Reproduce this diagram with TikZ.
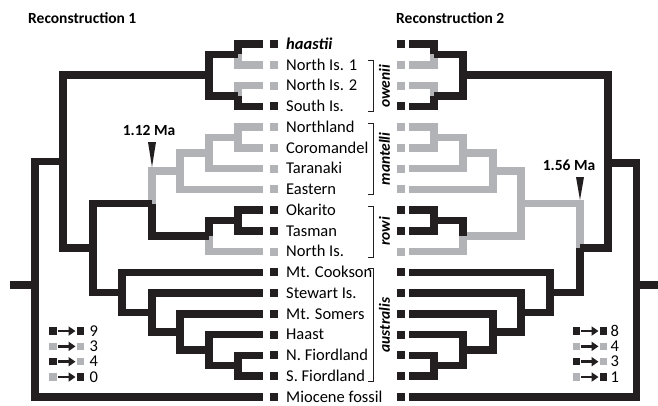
\documentclass[tikz,border=0pt]{standalone}
\usepackage{fontspec}
\setmainfont{Carlito}
\usetikzlibrary{arrows.meta, positioning, calc}
\definecolor{treeblack}{RGB}{35, 31, 32}
\definecolor{treegray}{RGB}{178, 179, 182}

\begin{document}
\begin{tikzpicture}[
        x=1pt, y=-1pt,
        every node/.style={font=\fontsize{16.5}{19}\selectfont},
        branch/.style={line width=7.5pt, line join=miter, treeblack},
        greybranch/.style={branch, treegray},
        leafl/.style={rectangle, minimum size=8pt, inner sep=0pt, outer xsep=7pt, outer ysep=0pt, fill=#1},
        leafr/.style={rectangle, minimum size=8pt, inner sep=0pt, outer xsep=3.5pt, outer ysep=0pt, fill=#1},
        taxon/.style={anchor=west, inner sep=0pt, text height=10.5pt, text depth=0pt},
        title/.style={anchor=west, inner sep=0pt, font=\fontsize{15.5}{18}\selectfont\bfseries},
        clade/.style={rotate=90, inner sep=0pt, font=\fontsize{15.5}{18}\selectfont\bfseries\itshape},
        bracket/.style={line width=0.8pt, treeblack},
        agelabel/.style={inner sep=0pt, font=\fontsize{15.5}{18}\selectfont\bfseries},
        legsq/.style={rectangle, minimum size=7.5pt, inner sep=0pt, fill=#1},
        legarrow/.style={line width=2.6pt, treeblack, -{Triangle[length=7pt,width=9pt]}, shorten <=1pt, shorten >=1pt},
    ]
    \useasboundingbox (0,0) rectangle (658,405);

    % Titles
    \node[title] (title1) at (28,18) {Reconstruction 1};
    \node[title] (title2) at (396,18) {Reconstruction 2};

    % Taxa with leaf squares on both sides
    \foreach \nm/\txt/\col [count=\i from 0] in {
        haastii/{\textbf{\textit{haastii}}}/treeblack,
        niA/North Is. 1/treegray,
        niB/North Is. 2/treegray,
        si/South Is./treeblack,
        northland/Northland/treegray,
        coromandel/Coromandel/treegray,
        taranaki/Taranaki/treegray,
        eastern/Eastern/treegray,
        okarito/Okarito/treeblack,
        tasman/Tasman/treeblack,
        ni/North Is./treegray,
        cookson/Mt. Cookson/treeblack,
        stewart/Stewart Is./treeblack,
        somers/Mt. Somers/treeblack,
        haast/Haast/treeblack,
        nfiord/N. Fiordland/treeblack,
        sfiord/S. Fiordland/treeblack,
        fossil/Miocene fossil/treeblack} {
        \node[taxon] (\nm) at (286, 44+20.75*\i) {\txt};
        \node[leafl=\col] (\nm-l) at (274, 44+20.75*\i) {};
        \node[leafr=\col] (\nm-r) at (401, 44+20.75*\i) {};
    }

    % Reconstruction 1 (left tree)
    \coordinate (lA) at (238, 54.4);
    \coordinate (lB) at (238, 95.9);
    \coordinate (lOw) at (209, 75.1);
    \coordinate (lM1) at (238, 137.4);
    \coordinate (lM2) at (209, 152.9);
    \coordinate (lM3) at (180, 171.1);
    \coordinate (lR1) at (238, 220.4);
    \coordinate (lR2) at (209, 235.9);
    \coordinate (lMR) at (152, 203.5);
    \coordinate (lA1) at (238, 365.6);
    \coordinate (lA2) at (209, 350.1);
    \coordinate (lA3) at (180, 331.9);
    \coordinate (lA4) at (152, 312.5);
    \coordinate (lA5) at (122, 292.4);
    \coordinate (lMRA) at (93, 247.9);
    \coordinate (lIn) at (63, 161.5);
    \coordinate (lRoot) at (35, 285);
    \coordinate (lStub) at (10, 285);

    \foreach \p/\c in {lA/niA-l.west, lB/niB-l.west, lM1/northland-l.west, lM1/coromandel-l.west,
        lM2/lM1, lM2/taranaki-l.west, lM3/lM2, lM3/eastern-l.west, lMR/lM3, lR2/ni-l.west}
        \draw[greybranch] (\p) |- (\c);
    \foreach \p/\c in {lA/haastii-l.west, lB/si-l.west, lOw/lA, lOw/lB,
        lR1/okarito-l.west, lR1/tasman-l.west, lR2/lR1, lMR/lR2,
        lA1/nfiord-l.west, lA1/sfiord-l.west, lA2/lA1, lA2/haast-l.west, lA3/lA2, lA3/somers-l.west,
        lA4/lA3, lA4/stewart-l.west, lA5/lA4, lA5/cookson-l.west,
        lMRA/lMR, lMRA/lA5, lIn/lOw, lIn/lMRA, lRoot/lIn, lRoot/fossil-l.west}
        \draw[branch] (\p) |- (\c);
    \draw[branch] (lStub) -- (lRoot);

    % Reconstruction 2 (right tree)
    \coordinate (rA) at (434, 54.4);
    \coordinate (rB) at (434, 95.9);
    \coordinate (rOw) at (463, 75.1);
    \coordinate (rM1) at (434, 137.4);
    \coordinate (rM2) at (463, 152.9);
    \coordinate (rM3) at (493, 171.1);
    \coordinate (rR1) at (434, 220.4);
    \coordinate (rR2) at (463, 235.9);
    \coordinate (rMR) at (521, 203.5);
    \coordinate (rA1) at (434, 365.6);
    \coordinate (rA2) at (463, 350.1);
    \coordinate (rA3) at (493, 331.9);
    \coordinate (rA4) at (521, 312.5);
    \coordinate (rA5) at (550, 292.4);
    \coordinate (rMRA) at (580, 247.9);
    \coordinate (rIn) at (608, 163);
    \coordinate (rRoot) at (636.5, 285);
    \coordinate (rStub) at (658, 285);

    \foreach \p/\c in {rA/niA-r.east, rB/niB-r.east, rM1/northland-r.east, rM1/coromandel-r.east,
        rM2/rM1, rM2/taranaki-r.east, rM3/rM2, rM3/eastern-r.east, rMR/rM3, rMR/rR2,
        rR2/ni-r.east, rMRA/rMR}
        \draw[greybranch] (\p) |- (\c);
    \foreach \p/\c in {rA/haastii-r.east, rB/si-r.east, rOw/rA, rOw/rB,
        rR1/okarito-r.east, rR1/tasman-r.east, rR2/rR1,
        rA1/nfiord-r.east, rA1/sfiord-r.east, rA2/rA1, rA2/haast-r.east, rA3/rA2, rA3/somers-r.east,
        rA4/rA3, rA4/stewart-r.east, rA5/rA4, rA5/cookson-r.east,
        rMRA/rA5, rIn/rOw, rIn/rMRA, rRoot/rIn, rRoot/fossil-r.east}
        \draw[branch] (\p) |- (\c);
    \draw[branch] (rStub) -- (rRoot);

    % Clade brackets
    \coordinate (brk) at (373.5, 0);
    \foreach \top/\bot/\lbl in {niA/si/owenii, northland/eastern/mantelli, okarito/ni/rowi, cookson/sfiord/australis} {
        \draw[bracket] ($(brk |- \top)+(-5.5,-4)$) -- ($(brk |- \top)+(0,-4)$)
            -- ($(brk |- \bot)+(0,5.5)$) -- ($(brk |- \bot)+(-5.5,5.5)$);
        \node[clade] at ($($(brk |- \top)!0.5!(brk |- \bot)$)+(11,0.75)$) {\lbl};
    }

    % Age markers
    \fill[treeblack] ($(lMR |- lM3)+(0,-4)$) -- ++(-4,-25) -- ++(8,0) -- cycle;
    \node[agelabel] (age1) at ($(lMR |- lM3)+(-3,-41)$) {1.12 Ma};
    \fill[treeblack] ($(rMRA |- rMR)+(0,-3.5)$) -- ++(-4,-23) -- ++(8,0) -- cycle;
    \node[agelabel] (age2) at ($(rMRA |- rMR)+(-11,-38.5)$) {1.56 Ma};

    % Legends
    \foreach \a/\b/\n [count=\i] in {treeblack/treeblack/9, treegray/treegray/3, treeblack/treegray/4, treegray/treeblack/0} {
        \node[legsq=\a] (lgLa\i) at (53, 315.7+15.33*\i) {};
        \node[legsq=\b] (lgLb\i) at (80.5, 315.7+15.33*\i) {};
        \node[taxon] (lgLn\i) at (89.5, 315.7+15.33*\i) {\n};
        \draw[legarrow] (lgLa\i) -- (lgLb\i);
    }
    \foreach \a/\b/\n [count=\i] in {treeblack/treeblack/8, treegray/treegray/4, treeblack/treegray/3, treegray/treeblack/1} {
        \node[legsq=\a] (lgRa\i) at (576.5, 315.7+15.33*\i) {};
        \node[legsq=\b] (lgRb\i) at (603.5, 315.7+15.33*\i) {};
        \node[taxon] (lgRn\i) at (610.5, 315.7+15.33*\i) {\n};
        \draw[legarrow] (lgRa\i) -- (lgRb\i);
    }

\end{tikzpicture}
\end{document}
